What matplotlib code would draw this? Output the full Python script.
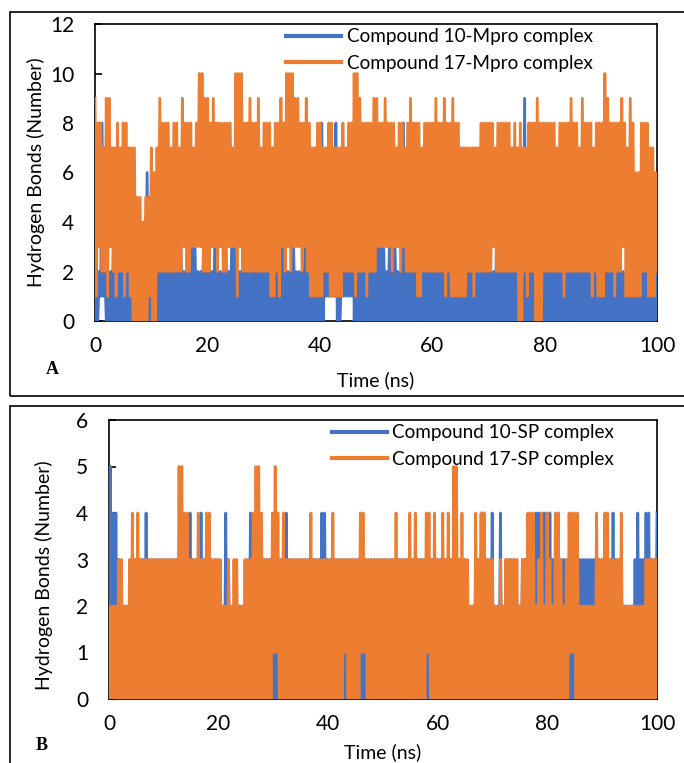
import matplotlib
matplotlib.use("Agg")
import matplotlib.pyplot as plt
from matplotlib.lines import Line2D
from matplotlib.patches import Rectangle
import numpy as np

BLUE = "#4472C4"
ORANGE = "#ED7D31"

# Hydrogen-bond counts, one hex digit per frame (a = 10), 40 frames per 10 ns.
MPRO_10 = [
    "0202 1812 0202 0303 0202 0202 0302 0202 0303 0602",
    "0202 0302 0202 0203 0202 0302 0202 0303 0202 0302",
    "0202 0302 0202 0302 0303 0202 0302 0202 0303 0202",
    "0202 0302 0202 0303 0202 0302 0202 0303 0202 0302",
    "0802 1312 1218 0202 1312 1218 0202 0302 0202 0303",
    "0303 0302 0303 0302 0208 0202 0302 0202 0202 0302",
    "0202 0302 0202 0202 0302 0202 0202 0302 0202 0302",
    "0202 0302 0202 0202 0302 0202 0902 0202 0302 0202",
    "0202 0302 0202 0302 0202 0202 0302 0202 0202 0302",
    "0202 0202 0302 0202 0202 0302 0202 0202 0302 0202",
]
MPRO_17 = [
    "9183 8272 9193 7271 8272 8182 7170 7050 5040 5051",
    "7060 7292 8282 8272 8282 7293 8282 8373 83a3 a292",
    "9283 9382 8382 8283 8373 a1a3 a282 8292 8282 9272",
    "8282 8171 8281 9382 a3a2 a393 9382 8392 8171 7181",
    "8172 7281 8171 7171 8272 8282 a1a2 9282 8182 8292",
    "9383 8393 8382 8373 8283 7282 9282 8181 7282 8282",
    "8292 8282 9182 8191 8181 7171 7272 7172 7282 8282",
    "8283 7282 8282 8282 7282 7080 7271 8282 8090 8082",
    "8282 8282 7282 8182 8292 8282 7292 8282 8172 8181",
    "81a2 9282 8182 8293 8171 9181 6161 8282 8171 7162",
]
SP_10 = [
    "0504 0403 0202 0202 0303 0303 0304 0303 0303 0303",
    "0303 0303 0303 0303 0304 0303 0304 0303 0303 0303",
    "0202 0403 0202 0202 0202 0304 0303 0303 0303 0303",
    "0303 0303 0403 0303 0303 0303 0303 0303 0304 0403",
    "0303 0303 0303 0303 0303 0303 0303 0303 0303 0303",
    "0303 0303 0303 0303 0303 0303 0303 0303 0303 0303",
    "0303 0303 0303 0303 0303 0202 0203 0304 0403 0304",
    "0202 0402 0303 0303 0202 0303 0303 0304 0404 0404",
    "0403 0304 0303 0303 0303 0303 0303 0303 0303 0303",
    "0303 0304 0303 0302 0202 0203 0403 0304 0403 0304",
]
SP_17 = [
    "0202 0203 0302 0203 0403 0403 0303 0303 0303 0303",
    "0303 0303 0305 0504 0403 0303 0403 0304 0403 0303",
    "0302 0203 0203 0302 0203 0303 0405 0504 0303 0304",
    "1514 0304 0303 0303 0303 0303 0304 0303 0303 0303",
    "0304 0303 0303 1303 0303 0304 1413 0303 0303 0303",
    "0303 0303 0403 0303 0304 0304 0303 0304 1403 0403",
    "0304 0304 0305 0503 0403 0302 0204 0304 0403 0303",
    "0202 0302 0303 0303 0302 0303 0404 0402 0304 0204",
    "0302 0404 0302 0304 1414 0402 0202 0202 0204 0303",
    "0404 0303 0303 0402 0202 0202 0202 0203 0303 0303",
]

LABELS_A = ["Compound 10-Mpro complex", "Compound 17-Mpro complex"]
LABELS_B = ["Compound 10-SP complex", "Compound 17-SP complex"]


def parse(rows):
    return np.array([int(c, 16) for c in "".join(rows).replace(" ", "")])


def draw_panel(ax, blue, orange, labels, ymax, ystep, legend_anchor):
    ax.plot(np.linspace(0, 100, len(blue)), blue, color=BLUE, lw=2.0, zorder=3)
    ax.plot(np.linspace(0, 100, len(orange)), orange, color=ORANGE, lw=2.0, zorder=3)
    ax.set_xlim(0, 100)
    ax.set_ylim(0, ymax)
    ax.set_xticks(np.arange(0, 101, 20))
    ax.set_yticks(np.arange(0, ymax + 0.1, ystep))
    for s in ax.spines.values():
        s.set_color("black")
        s.set_linewidth(1.2)
        s.set_zorder(2)
    ax.tick_params(axis="y", direction="in", length=5, width=1.2, pad=15, labelsize=15)
    ax.tick_params(axis="x", direction="in", length=0, pad=11, labelsize=15)
    handles = [Line2D([], [], color=BLUE, lw=3), Line2D([], [], color=ORANGE, lw=3)]
    ax.legend(handles, labels, loc="upper left", bbox_to_anchor=legend_anchor,
              frameon=False, fontsize=13.6, handlelength=2.9, handletextpad=0.3,
              labelspacing=0.5, borderpad=0, borderaxespad=0)
    ax.set_xlabel("Time (ns)", fontsize=14, va="center")
    ax.set_ylabel("Hydrogen Bonds (Number)", fontsize=14, va="center")


plt.rcParams["font.family"] = ["Lato", "DejaVu Sans"]
fig = plt.figure(figsize=(6.84, 7.63), dpi=100)
W, H = 684.0, 763.0

# panel frames
fig.patches.append(Rectangle((10 / W, 1 - 396 / H), 1.2, (396 - 12) / H, transform=fig.transFigure,
                             fill=False, edgecolor="black", lw=1.2))
fig.patches.append(Rectangle((10 / W, -0.05), 1.2, 0.05 + 1 - 406 / H, transform=fig.transFigure,
                             fill=False, edgecolor="black", lw=1.2))

ax_a = fig.add_axes([95 / W, 1 - 321 / H, 562 / W, 297 / H])
draw_panel(ax_a, parse(MPRO_10), parse(MPRO_17), LABELS_A, 12, 2, (0.34, 0.985))
ax_a.xaxis.set_label_coords(0.5, (321 - 380) / 297)
ax_a.yaxis.set_label_coords((36 - 95) / 562, 0.5)

ax_b = fig.add_axes([109 / W, 1 - 699 / H, 548 / W, 279 / H])
draw_panel(ax_b, parse(SP_10), parse(SP_17), LABELS_B, 6, 1, (0.407, 0.985))
ax_b.xaxis.set_label_coords(0.5, (699 - 752) / 279)
ax_b.yaxis.set_label_coords((44 - 109) / 548, (699 - 575) / 279)

fig.text(52 / W, 1 - 370 / H, "A", family="Liberation Serif", weight="bold", fontsize=13,
         ha="center", va="center")
fig.text(42 / W, 1 - 745 / H, "B", family="Liberation Serif", weight="bold", fontsize=13,
         ha="center", va="center")

fig.savefig("out.png", dpi=100)
